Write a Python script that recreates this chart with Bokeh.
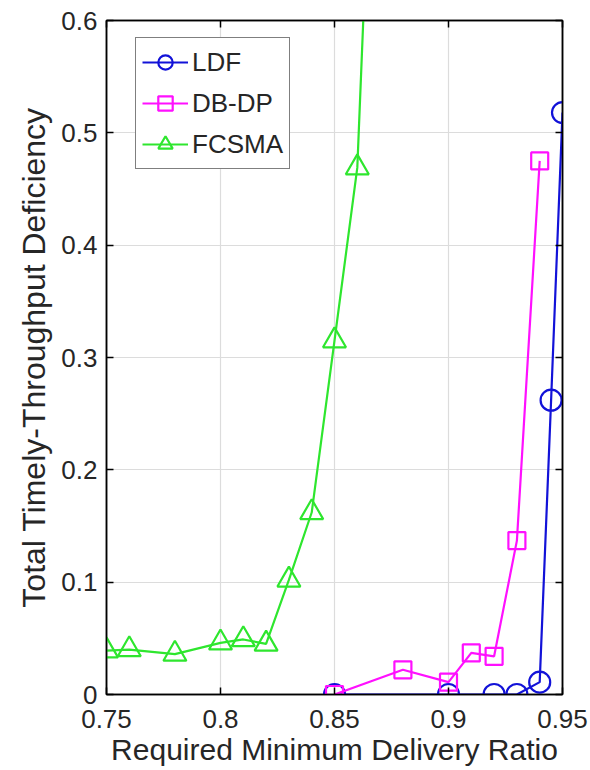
from bokeh.plotting import figure
from bokeh.models import LinearAxis, FixedTicker, Range1d
from bokeh.embed import file_html
from bokeh.resources import INLINE

# ---- data ----
ldf_x = [0.85, 0.90, 0.92, 0.93, 0.94, 0.945, 0.95]
ldf_y = [0.0, 0.0, 0.0, 0.0, 0.011, 0.262, 0.518]

dbdp_x = [0.85, 0.88, 0.90, 0.91, 0.92, 0.93, 0.94]
dbdp_y = [0.0, 0.022, 0.011, 0.037, 0.034, 0.137, 0.475]

fcsma_x = [0.75, 0.76, 0.78, 0.80, 0.81, 0.82, 0.83, 0.84, 0.85, 0.86, 0.87]
fcsma_y = [0.039, 0.040, 0.036, 0.046, 0.049, 0.045, 0.102, 0.162, 0.315, 0.469, 0.97]

x_ticks = [0.75, 0.8, 0.85, 0.9, 0.95]
x_tick_labels = ["0.75", "0.8", "0.85", "0.9", "0.95"]
y_ticks = [0, 0.1, 0.2, 0.3, 0.4, 0.5, 0.6]
y_tick_labels = ["0", "0.1", "0.2", "0.3", "0.4", "0.5", "0.6"]

FONT = "Liberation Sans"
TXT = "#262626"

p = figure(width=588, height=768, output_backend="svg", toolbar_location=None,
           x_range=Range1d(0.75, 0.95), y_range=Range1d(0, 0.6),
           min_border_left=106, min_border_right=26, min_border_top=20, min_border_bottom=74)

p.background_fill_color = "white"
p.outline_line_color = "black"
p.outline_line_width = 1.5

for ax in (p.xaxis[0], p.yaxis[0]):
    ax.major_tick_in = 7
    ax.major_tick_out = 0
    ax.minor_tick_line_color = None
    ax.major_tick_line_color = "black"
    ax.major_tick_line_width = 1.5
    ax.axis_line_color = "black"
    ax.axis_line_width = 1.5
    ax.major_label_text_font = FONT
    ax.major_label_text_font_size = "26px"
    ax.major_label_text_color = TXT
    ax.axis_label_text_font = FONT
    ax.axis_label_text_font_style = "normal"
    ax.axis_label_text_color = TXT

p.xaxis[0].ticker = FixedTicker(ticks=x_ticks)
p.xaxis[0].major_label_overrides = dict(zip(x_ticks, x_tick_labels))
p.xaxis[0].axis_label = "Required Minimum Delivery Ratio"
p.xaxis[0].axis_label_text_font_size = "30px"
p.xaxis[0].major_label_standoff = 15
p.xaxis[0].axis_label_standoff = 2

p.yaxis[0].ticker = FixedTicker(ticks=y_ticks)
p.yaxis[0].major_label_overrides = dict(zip(y_ticks, y_tick_labels))
p.yaxis[0].axis_label = "Total Timely-Throughput Deficiency"
p.yaxis[0].axis_label_text_font_size = "32px"
p.yaxis[0].major_label_standoff = 9
p.yaxis[0].axis_label_standoff = 6

top = LinearAxis(ticker=FixedTicker(ticks=x_ticks),
                 major_label_overrides={t: "" for t in x_ticks},
                 major_tick_in=7, major_tick_out=0, minor_tick_line_color=None,
                 major_tick_line_width=1.5, axis_line_width=1.5, major_label_standoff=0)
right = LinearAxis(ticker=FixedTicker(ticks=y_ticks),
                   major_label_overrides={t: "" for t in y_ticks},
                   major_tick_in=7, major_tick_out=0, minor_tick_line_color=None,
                   major_tick_line_width=1.5, axis_line_width=1.5, major_label_standoff=0)
p.add_layout(top, "above")
p.add_layout(right, "right")

p.xgrid.ticker = FixedTicker(ticks=x_ticks)
p.ygrid.ticker = FixedTicker(ticks=y_ticks)
for g in (p.xgrid[0], p.ygrid[0]):
    g.grid_line_color = "#dcdcdc"
    g.grid_line_width = 1.2

BLUE = "#1212d8"
MAG = "#ff10ff"
GREEN = "#2ee62e"

p.line(ldf_x, ldf_y, line_color=BLUE, line_width=2.2, legend_label="LDF")
p.scatter(ldf_x, ldf_y, marker="circle", size=21, fill_color=None, line_color=BLUE,
          line_width=2.2, legend_label="LDF")

p.line(dbdp_x, dbdp_y, line_color=MAG, line_width=2.2, legend_label="DB-DP")
p.scatter(dbdp_x, dbdp_y, marker="square", size=17, fill_color=None, line_color=MAG,
          line_width=2.2, legend_label="DB-DP")

p.line(fcsma_x, fcsma_y, line_color=GREEN, line_width=2.2, legend_label="FCSMA")
p.scatter(fcsma_x, fcsma_y, marker="triangle", size=23, fill_color=None, line_color=GREEN,
          line_width=2.2, legend_label="FCSMA")

lg = p.legend[0]
lg.location = (29, 525)
lg.margin = 0
lg.padding = 6
lg.spacing = 5
lg.glyph_width = 46
lg.glyph_height = 36
lg.label_standoff = 4
lg.label_text_font = FONT
lg.label_text_font_size = "26px"
lg.label_text_color = TXT
lg.border_line_color = "black"
lg.border_line_width = 1.5
lg.background_fill_color = "white"
lg.background_fill_alpha = 1

open("out.html", "w").write(file_html(p, INLINE))
